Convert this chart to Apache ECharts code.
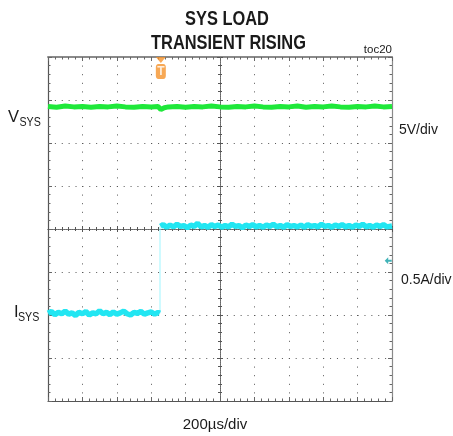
<!DOCTYPE html>
<html><head><meta charset="utf-8">
<script src="https://cdn.jsdelivr.net/npm/echarts@6/dist/echarts.min.js"></script>
<style>html,body{margin:0;padding:0;background:#fff}#c{width:453px;height:436px}</style>
</head><body><div id="c"></div>
<script>
// Scope screen: 10 horizontal divisions (-5..5), 8 vertical divisions (-4..4)
const titleLines = ['SYS LOAD', 'TRANSIENT RISING'];
const figureTag = 'toc20';
const timeScale = '200\u00b5s/div';
const vsysScale = '5V/div';
const isysScale = '0.5A/div';

// VSYS trace (divisions)
const vsysTrace = [
  [-5,2.85],[-4.75,2.83],[-4.5,2.86],[-4.25,2.84],[-4,2.85],[-3.75,2.83],[-3.5,2.85],[-3.25,2.84],
  [-3,2.86],[-2.75,2.84],[-2.5,2.83],[-2.25,2.85],[-2,2.84],[-1.8,2.85],[-1.72,2.78],[-1.62,2.82],
  [-1.5,2.84],[-1.25,2.85],[-1,2.83],[-0.75,2.85],[-0.5,2.84],[-0.25,2.86],[0,2.84],[0.25,2.83],
  [0.5,2.85],[0.75,2.84],[1,2.86],[1.25,2.84],[1.5,2.83],[1.75,2.85],[2,2.84],[2.25,2.86],
  [2.5,2.83],[2.75,2.85],[3,2.84],[3.25,2.86],[3.5,2.84],[3.75,2.83],[4,2.85],[4.25,2.84],
  [4.5,2.86],[4.75,2.84],[5,2.85]
];
// ISYS trace before the load step (divisions)
const isysLow = [
  [-5,-1.96],[-4.9,-1.92],[-4.8,-1.99],[-4.7,-1.94],[-4.6,-1.97],[-4.5,-1.91],[-4.4,-1.98],[-4.3,-1.95],
  [-4.2,-2.01],[-4.1,-1.94],[-4,-1.97],[-3.9,-1.92],[-3.8,-2.0],[-3.7,-1.95],[-3.6,-1.97],[-3.5,-1.9],
  [-3.4,-1.97],[-3.3,-1.94],[-3.2,-1.99],[-3.1,-1.93],[-3,-1.98],[-2.9,-1.95],[-2.8,-1.91],[-2.7,-1.97],
  [-2.6,-2.0],[-2.5,-1.94],[-2.4,-1.96],[-2.3,-1.92],[-2.2,-1.98],[-2.1,-1.95],[-2,-1.93],[-1.9,-1.98],
  [-1.8,-1.94],[-1.75,-1.96]
];
// ISYS trace after the load step (divisions)
const isysHigh = [
  [-1.73,0.06],[-1.65,0.1],[-1.55,0.04],[-1.45,0.09],[-1.35,0.05],[-1.25,0.11],[-1.15,0.06],[-1.05,0.08],
  [-0.95,0.03],[-0.85,0.09],[-0.75,0.06],[-0.65,0.13],[-0.55,0.05],[-0.45,0.08],[-0.35,0.04],[-0.25,0.1],
  [-0.15,0.06],[-0.05,0.09],[0.05,0.04],[0.15,0.08],[0.25,0.05],[0.35,0.11],[0.45,0.06],[0.55,0.08],
  [0.65,0.03],[0.75,0.09],[0.85,0.06],[0.95,0.1],[1.05,0.05],[1.15,0.08],[1.25,0.04],[1.35,0.09],
  [1.45,0.06],[1.55,0.11],[1.65,0.05],[1.75,0.08],[1.85,0.04],[1.95,0.1],[2.05,0.06],[2.15,0.08],
  [2.25,0.05],[2.35,0.09],[2.45,0.04],[2.55,0.1],[2.65,0.06],[2.75,0.08],[2.85,0.05],[2.95,0.11],
  [3.05,0.06],[3.15,0.08],[3.25,0.04],[3.35,0.09],[3.45,0.06],[3.55,0.1],[3.65,0.05],[3.75,0.08],
  [3.85,0.04],[3.95,0.09],[4.05,0.06],[4.15,0.11],[4.25,0.05],[4.35,0.08],[4.45,0.04],[4.55,0.09],
  [4.65,0.06],[4.75,0.1],[4.85,0.05],[5,0.07]
];
const isysStep = [[-1.744,-1.96],[-1.744,0.06]];
const triggerMark = [[-1.72,3.93]];
const triggerFlag = [[-1.72,3.66]];
const ch2Ground = [[4.89,-0.74]];

const FONT = '"Liberation Sans", Arial, sans-serif';
const gridCol = '#555';

function borderX(pos, lineCol, lineW, split) {
  return {
    type: 'value', min: -5, max: 5, interval: 1, position: pos,
    axisLine: { show: true, onZero: false, lineStyle: { color: lineCol, width: lineW } },
    axisTick: { show: true, inside: true, length: 4, lineStyle: { color: '#666' } },
    minorTick: { show: true, splitNumber: 5, length: 2.5, lineStyle: { color: '#666' } },
    axisLabel: { show: false },
    splitLine: { show: split, lineStyle: { color: gridCol, width: 1, type: [1, 7.6] } },
    minorSplitLine: { show: false }
  };
}
function borderY(pos, lineCol, lineW, split) {
  return {
    type: 'value', min: -4, max: 4, interval: 1, position: pos,
    axisLine: { show: true, onZero: false, lineStyle: { color: lineCol, width: lineW } },
    axisTick: { show: true, inside: true, length: 4, lineStyle: { color: '#666' } },
    minorTick: { show: true, splitNumber: 5, length: 2.5, lineStyle: { color: '#666' } },
    axisLabel: { show: false },
    splitLine: { show: split, lineStyle: { color: gridCol, width: 1, type: [1, 5.88] } }
  };
}
function centerX(pos) {
  return {
    type: 'value', min: -5, max: 5, interval: 1, position: pos,
    axisLine: { show: true, onZero: true, onZeroAxisIndex: 0, lineStyle: { color: '#666', width: 1, type: [1, 1] } },
    axisTick: { show: true, inside: true, length: 3, lineStyle: { color: '#555' } },
    minorTick: { show: true, splitNumber: 5, length: 2, lineStyle: { color: '#555' } },
    axisLabel: { show: false }, splitLine: { show: false }
  };
}
function centerY(pos) {
  return {
    type: 'value', min: -4, max: 4, interval: 1, position: pos,
    axisLine: { show: true, onZero: true, onZeroAxisIndex: 0, lineStyle: { color: '#666', width: 1, type: [1, 1] } },
    axisTick: { show: true, inside: true, length: 3, lineStyle: { color: '#555' } },
    minorTick: { show: true, splitNumber: 5, length: 2, lineStyle: { color: '#555' } },
    axisLabel: { show: false }, splitLine: { show: false }
  };
}
function txt(x, y, s, font, align, sx) {
  return { type: 'text', x: x, y: y, scaleX: sx || 1,
    style: { text: s, font: font, fill: '#1a1a1a', align: align || 'left', verticalAlign: 'middle' } };
}

const chart = echarts.init(document.getElementById('c'), null, { renderer: 'canvas' });
chart.setOption({
  animation: false,
  backgroundColor: '#fff',
  grid: { left: 48, top: 57, width: 344, height: 344 },
  xAxis: [
    borderX('bottom', '#555', 1.2, true),
    borderX('top', '#8a8a8a', 2, false),
    centerX('bottom'),
    centerX('top')
  ],
  yAxis: [
    borderY('left', '#555', 1.2, true),
    borderY('right', '#8a8a8a', 1.2, false),
    centerY('left'),
    centerY('right')
  ],
  graphic: [
    txt(227, 19.5, titleLines[0], 'bold 20px ' + FONT, 'center', 0.82),
    txt(228.5, 43, titleLines[1], 'bold 20px ' + FONT, 'center', 0.82),
    txt(392, 49.5, figureTag, '11.5px ' + FONT, 'right'),
    txt(8, 117.5, 'V', '16.5px ' + FONT, 'left'),
    txt(19.5, 122.5, 'SYS', '13px ' + FONT, 'left', 0.82),
    txt(14, 312, 'I', '16.5px ' + FONT, 'left'),
    txt(18, 317.5, 'SYS', '13px ' + FONT, 'left', 0.82),
    txt(399, 130, vsysScale, '14px ' + FONT, 'left'),
    txt(401, 280, isysScale, '14px ' + FONT, 'left'),
    txt(215, 425, timeScale, '15px ' + FONT, 'center')
  ],
  series: [
    { type: 'line', data: vsysTrace, showSymbol: false, symbol: 'none', lineStyle: { color: '#1fe83a', width: 5 }, z: 5 },
    { type: 'line', data: isysStep, showSymbol: false, symbol: 'none', lineStyle: { color: '#9ff6ff', width: 1 }, z: 4 },
    { type: 'line', data: isysLow, showSymbol: false, symbol: 'none', lineStyle: { color: '#22e6f2', width: 5.5 }, z: 5 },
    { type: 'line', data: isysHigh, showSymbol: false, symbol: 'none', lineStyle: { color: '#22e6f2', width: 5.5 }, z: 5 },
    { type: 'scatter', data: triggerMark, symbol: 'triangle', symbolRotate: 180, symbolSize: [10, 6], itemStyle: { color: '#f5922a' }, z: 10 },
    { type: 'scatter', data: triggerFlag, symbol: 'roundRect', symbolSize: [10, 15], itemStyle: { color: '#f5922a' }, z: 10,
      label: { show: true, position: 'inside', formatter: 'T', color: '#fff', fontWeight: 'bold', fontSize: 12, fontFamily: 'Liberation Sans' } },
    { type: 'scatter', data: ch2Ground, symbol: 'path://M0,5 L5,0 L5,3.6 L10,3.6 L10,6.4 L5,6.4 L5,10 Z', symbolSize: [7, 7], itemStyle: { color: '#12a0a6' }, z: 10 }
  ]
});
</script></body></html>
